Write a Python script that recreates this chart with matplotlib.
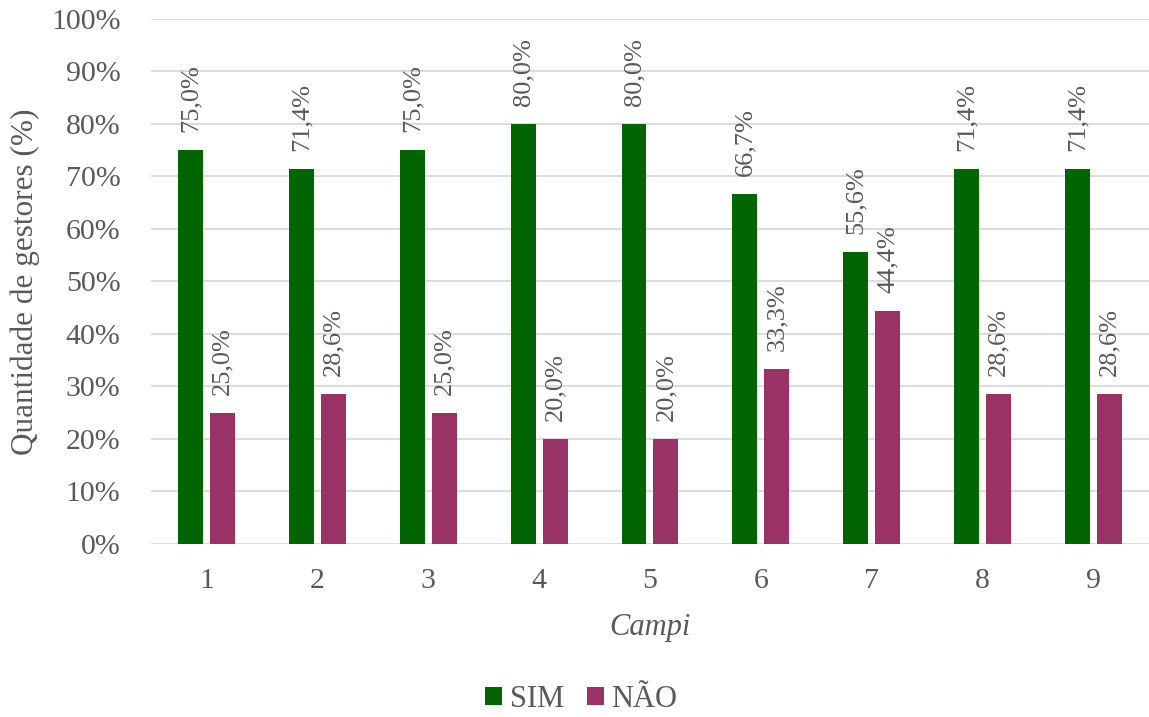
import matplotlib
matplotlib.use("Agg")
import matplotlib.pyplot as plt
import numpy as np

campi = ["1", "2", "3", "4", "5", "6", "7", "8", "9"]
sim = [75.0, 71.4, 75.0, 80.0, 80.0, 66.7, 55.6, 71.4, 71.4]
nao = [25.0, 28.6, 25.0, 20.0, 20.0, 33.3, 44.4, 28.6, 28.6]

plt.rcParams['font.family'] = ['Liberation Serif', 'DejaVu Serif']
gray = '#595959'
green = '#006400'
purple = '#993366'

fig = plt.figure(figsize=(11.49, 7.17), dpi=100)
ax = fig.add_axes([0.1314, 0.2413, 0.8686, 0.7322])

x = np.arange(len(campi))
w = 0.225
off = 0.144
b1 = ax.bar(x - off, sim, w, color=green, label='SIM', zorder=3)
b2 = ax.bar(x + off, nao, w, color=purple, label='NÃO', zorder=3)

for bars, vals in ((b1, sim), (b2, nao)):
    for r, v in zip(bars, vals):
        ax.annotate(f"{v:.1f}%".replace('.', ','),
                    (r.get_x() + r.get_width() / 2, v),
                    xytext=(0, 13), textcoords='offset points',
                    rotation=90, ha='center', va='bottom',
                    fontsize=19, color=gray)

ax.set_xlim(-0.5, len(campi) - 0.5)
ax.set_ylim(0, 100)
ax.set_yticks(np.arange(0, 101, 10))
ax.set_yticklabels([f"{t}%" for t in range(0, 101, 10)])
ax.set_xticks(x)
ax.set_xticklabels(campi)
ax.tick_params(axis='both', length=0, labelsize=21.5, colors=gray)
ax.tick_params(axis='x', pad=17)
ax.tick_params(axis='y', pad=22)
ax.grid(axis='y', color='#d9d9d9', linewidth=1.3, zorder=0)
for s in ax.spines.values():
    s.set_visible(False)

ax.set_xlabel('Campi', fontsize=22, style='italic', color=gray, labelpad=14)
ax.set_ylabel('Quantidade de gestores (%)', fontsize=22.5, color=gray, labelpad=8)

leg = fig.legend(loc='center', bbox_to_anchor=(0.506, 0.025), ncol=2,
                 frameon=False, fontsize=22, handlelength=0.55, handleheight=0.55,
                 handletextpad=0.25, columnspacing=0.75)
for t in leg.get_texts():
    t.set_color(gray)

fig.savefig('out.png', dpi=100)
